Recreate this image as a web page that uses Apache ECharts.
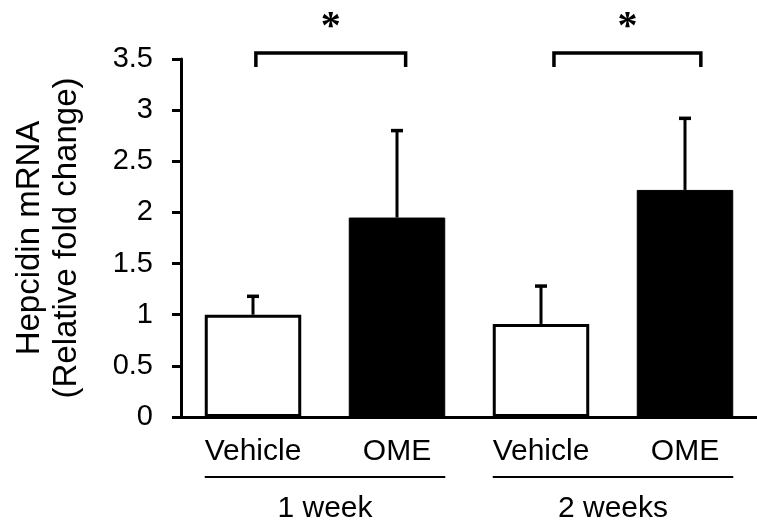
<!DOCTYPE html>
<html>
<head>
<meta charset="utf-8">
<script src="https://cdn.jsdelivr.net/npm/echarts@6/dist/echarts.min.js"></script>
<style>
html,body{margin:0;padding:0;background:#fff;}
#chart{width:757px;height:525px;}
</style>
</head>
<body>
<div id="chart"></div>
<script>
// ---- data ----
const categories = ['Vehicle', 'OME', 'Vehicle', 'OME'];
const groupLabels = ['1 week', '2 weeks'];
const meanValues = [1.00, 1.95, 0.91, 2.22];
const errorUpper = [1.18, 2.80, 1.28, 2.92];
const groupPairs = [[0, 1], [2, 3]];
const sigPairs = [[0, 1], [2, 3]];
const sigLabels = ['*', '*'];
const yMin = 0, yMax = 3.5, yStep = 0.5;
const yTitle = 'Hepcidin mRNA\n(Relative fold change)';

const FONT = 'Liberation Sans, Arial, sans-serif';
// bracket end insets (fraction of band) — drawing style only
const bracketInset = [[0.02, 0.06], [0.09, 0.11]];

const chart = echarts.init(document.getElementById('chart'), null, {renderer: 'canvas'});

const option = {
  animation: false,
  backgroundColor: '#fff',
  grid: {left: 181, right: 0, top: 59, bottom: 108, outerBoundsMode: 'none'},
  xAxis: [
    {
      type: 'category', data: categories, position: 'bottom',
      axisLine: {lineStyle: {color: '#000', width: 3}},
      axisTick: {show: false},
      axisLabel: {color: '#000', fontSize: 30, fontFamily: FONT, margin: 20}
    },
    {
      type: 'category', data: groupLabels, position: 'bottom', gridIndex: 0,
      axisLine: {show: false}, axisTick: {show: false}, splitLine: {show: false},
      axisLabel: {color: '#000', fontSize: 30, fontFamily: FONT, margin: 77}
    }
  ],
  yAxis: {
    type: 'value', min: yMin, max: yMax, interval: yStep,
    axisLine: {show: true, lineStyle: {color: '#000', width: 3}},
    axisTick: {show: true, length: 9, lineStyle: {color: '#000', width: 3}},
    splitLine: {show: false},
    axisLabel: {color: '#000', fontSize: 29, fontFamily: FONT, margin: 28},
    name: yTitle, nameLocation: 'middle', nameGap: 96,
    nameTextStyle: {color: '#000', fontSize: 33, fontFamily: FONT, lineHeight: 37}
  },
  series: [
    {
      type: 'bar', xAxisIndex: 0, barWidth: '67%',
      data: meanValues.map((v, i) => ({
        value: v,
        itemStyle: i % 2 === 0
          ? {color: '#fff', borderColor: '#000', borderWidth: 3}
          : {color: '#000', borderColor: '#000', borderWidth: 1}
      })),
      z: 2
    },
    {
      type: 'custom', xAxisIndex: 0, z: 3,
      data: errorUpper.map((u, i) => [i, meanValues[i], u]),
      encode: {x: 0, y: 2},
      renderItem: function (params, api) {
        const i = api.value(0);
        const b = api.coord([i, api.value(1)]);
        const t = api.coord([i, api.value(2)]);
        return {
          type: 'group',
          children: [
            {type: 'line', shape: {x1: b[0], y1: b[1], x2: t[0], y2: t[1]}, style: {stroke: '#000', lineWidth: 3}},
            {type: 'line', shape: {x1: t[0] - 6, y1: t[1], x2: t[0] + 6, y2: t[1]}, style: {stroke: '#000', lineWidth: 3.5}}
          ]
        };
      }
    },
    {
      type: 'custom', xAxisIndex: 0, z: 3, clip: false,
      data: sigPairs.map((p, k) => [p[0], p[1], k]),
      encode: {x: 0, y: 1},
      renderItem: function (params, api) {
        const k = api.value(2);
        const a = api.coord([api.value(0), yMax]);
        const b = api.coord([api.value(1), yMax]);
        const band = api.size([1, 0])[0];
        const x1 = a[0] + bracketInset[k][0] * band, x2 = b[0] + bracketInset[k][1] * band;
        const yTop = a[1] - 6, yBot = a[1] + 8;
        return {
          type: 'group',
          children: [
            {type: 'polyline', shape: {points: [[x1, yBot], [x1, yTop], [x2, yTop], [x2, yBot]]},
             style: {stroke: '#000', lineWidth: 3.5, fill: null}},
            {type: 'text', style: {text: sigLabels[k], x: (x1 + x2) / 2, y: yTop - 25,
             align: 'center', verticalAlign: 'middle', fill: '#000',
             font: 'bold 40px Liberation Serif'}}
          ]
        };
      }
    },
    {
      type: 'custom', xAxisIndex: 0, z: 3, clip: false,
      data: groupPairs.map(p => [p[0], p[1]]),
      encode: {x: 0, y: 1},
      renderItem: function (params, api) {
        const a = api.coord([api.value(0), yMin]);
        const b = api.coord([api.value(1), yMin]);
        const half = api.size([1, 0])[0] * 0.335;
        const y = a[1] + 60;
        return {type: 'line', shape: {x1: a[0] - half, y1: y, x2: b[0] + half, y2: y},
                style: {stroke: '#000', lineWidth: 2}};
      }
    }
  ]
};
chart.setOption(option);
</script>
</body>
</html>
